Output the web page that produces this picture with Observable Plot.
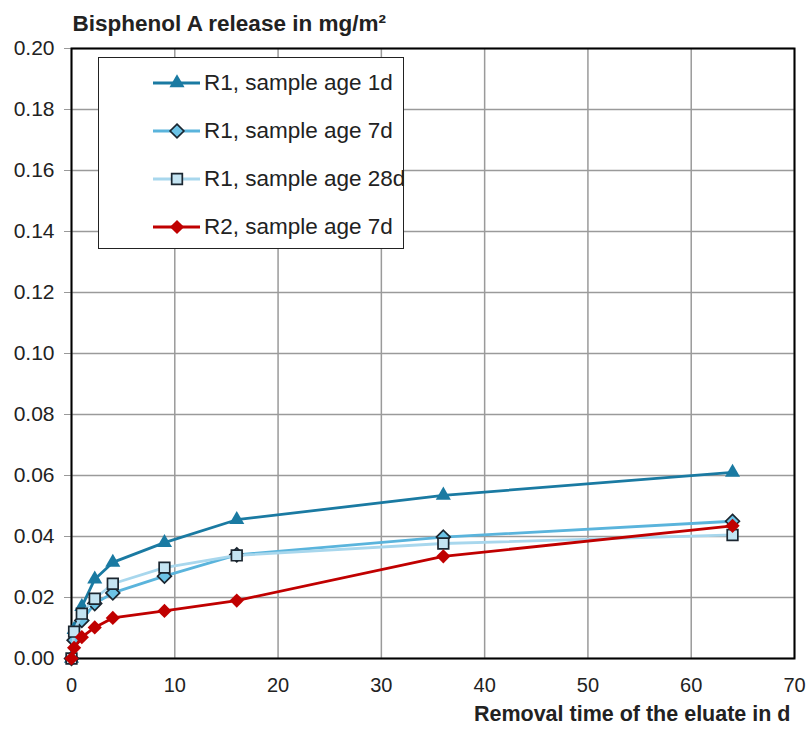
<!DOCTYPE html>
<html>
<head>
<meta charset="utf-8">
<script src="https://cdn.jsdelivr.net/npm/d3@7"></script>
<script src="https://cdn.jsdelivr.net/npm/@observablehq/plot@0.6"></script>
<style>
  body { margin: 0; background: #fff; font-family: "Liberation Sans", Arial, sans-serif; color: #222; }
  #wrap { position: relative; width: 806px; height: 734px; overflow: hidden; }
  #legend { position: absolute; left: 98px; top: 57px; width: 304px; height: 190px;
            border: 1.5px solid #222; background: #fff; }
  .item { position: absolute; left: 54px; height: 48px; display: flex; align-items: center; }
  .item span { font-size: 22.5px; color: #222; margin-left: 3px; white-space: nowrap; }
</style>
</head>
<body>
<div id="wrap"></div>
<script>
// ---- data ----
const days = [0, 0.25, 1, 2.25, 4, 9, 16, 36, 64];
const r1Age1d  = [0, 0.0095, 0.017, 0.026, 0.0315, 0.038, 0.0455, 0.0535, 0.061];
const r1Age7d  = [0, 0.006, 0.0125, 0.018, 0.0215, 0.027, 0.034, 0.0398, 0.045];
const r1Age28d = [0, 0.0088, 0.0147, 0.0196, 0.0245, 0.0298, 0.0338, 0.0377, 0.0405];
const r2Age7d  = [0, 0.0035, 0.007, 0.0102, 0.0133, 0.0156, 0.019, 0.0335, 0.0435];

const seriesNames = ["R1, sample age 1d", "R1, sample age 7d", "R1, sample age 28d", "R2, sample age 7d"];
const seriesValues = [r1Age1d, r1Age7d, r1Age28d, r2Age7d];
const lineColors   = ["#1a7aa2", "#5ab4dc", "#a8d7ed", "#c00000"];
const markerFills  = ["#1a7aa2", "#6cc3e6", "#c4e4f2", "#c00000"];
const markerStrokes = ["none", "#1b2630", "#1b2630", "none"];
const symbols = ["triangle", "diamond2", "square", "diamond2"];
const symbolR = [5.6, 6.2, 6, 6.4];

const xTicks = [0, 10, 20, 30, 40, 50, 60, 70];
const yTicks = [0, 0.02, 0.04, 0.06, 0.08, 0.10, 0.12, 0.14, 0.16, 0.18, 0.20];
const titleText = "Bisphenol A release in mg/m²";
const xTitleText = "Removal time of the eluate in d";

const rows = seriesNames.flatMap((name, s) =>
  days.map((d, i) => ({series: name, s, day: d, value: seriesValues[s][i]})));

const seriesMarks = seriesNames.flatMap((name, s) => {
  const data = rows.filter(r => r.s === s);
  return [
    Plot.line(data, {x: "day", y: "value", stroke: lineColors[s], strokeWidth: 2.8}),
    Plot.dot(data, {x: "day", y: "value", symbol: symbols[s], r: symbolR[s],
      fill: markerFills[s], stroke: markerStrokes[s], strokeWidth: 1.7})
  ];
});

const chart = Plot.plot({
  width: 806,
  height: 734,
  marginLeft: 71,
  marginRight: 12,
  marginTop: 48,
  marginBottom: 76,
  style: {fontFamily: '"Liberation Sans", Arial, sans-serif', color: "#222", background: "#fff"},
  x: {domain: [0, 70]},
  y: {domain: [0, 0.2]},
  marks: [
    Plot.gridX({ticks: xTicks, stroke: "#9a9a9a", strokeOpacity: 1, strokeWidth: 1.5}),
    Plot.gridY({ticks: yTicks, stroke: "#9a9a9a", strokeOpacity: 1, strokeWidth: 1.5}),
    Plot.axisY({ticks: yTicks, tickFormat: d3.format(".2f"), tickSize: 7, tickPadding: 10,
      fontSize: 21, stroke: "#999", label: null}),
    Plot.axisX({ticks: xTicks, tickSize: 0, tickPadding: 19, fontSize: 20, label: null}),
    Plot.frame({stroke: "#000", strokeWidth: 2}),
    ...seriesMarks,
    Plot.text([titleText], {text: d => d, frameAnchor: "top-left", textAnchor: "start",
      lineAnchor: "bottom", dx: 1, dy: -18, fontSize: 22.5, fontWeight: "bold", fill: "#222"}),
    Plot.text([xTitleText], {text: d => d, frameAnchor: "bottom-right", textAnchor: "end",
      lineAnchor: "bottom", dx: -4, dy: 62, fontSize: 21.5, fontWeight: "bold", fill: "#222"})
  ]
});

const wrap = document.getElementById("wrap");
wrap.appendChild(chart);

// ---- legend ----
const legend = document.createElement("div");
legend.id = "legend";
wrap.appendChild(legend);
const symbolTypes = {triangle: d3.symbolTriangle, diamond2: d3.symbolDiamond2, square: d3.symbolSquare};
seriesNames.forEach((name, s) => {
  const item = document.createElement("div");
  item.className = "item";
  item.style.top = (0.7 + s * 48.1) + "px";
  const svg = d3.create("svg").attr("width", 48).attr("height", 20);
  svg.append("line").attr("x1", 0).attr("x2", 47).attr("y1", 10).attr("y2", 10)
    .attr("stroke", lineColors[s]).attr("stroke-width", 2.8);
  svg.append("path")
    .attr("transform", "translate(24,10)")
    .attr("d", d3.symbol(symbolTypes[symbols[s]], Math.PI * symbolR[s] * symbolR[s])())
    .attr("fill", markerFills[s])
    .attr("stroke", markerStrokes[s])
    .attr("stroke-width", 1.7);
  item.appendChild(svg.node());
  const label = document.createElement("span");
  label.textContent = name;
  item.appendChild(label);
  legend.appendChild(item);
});
</script>
</body>
</html>
